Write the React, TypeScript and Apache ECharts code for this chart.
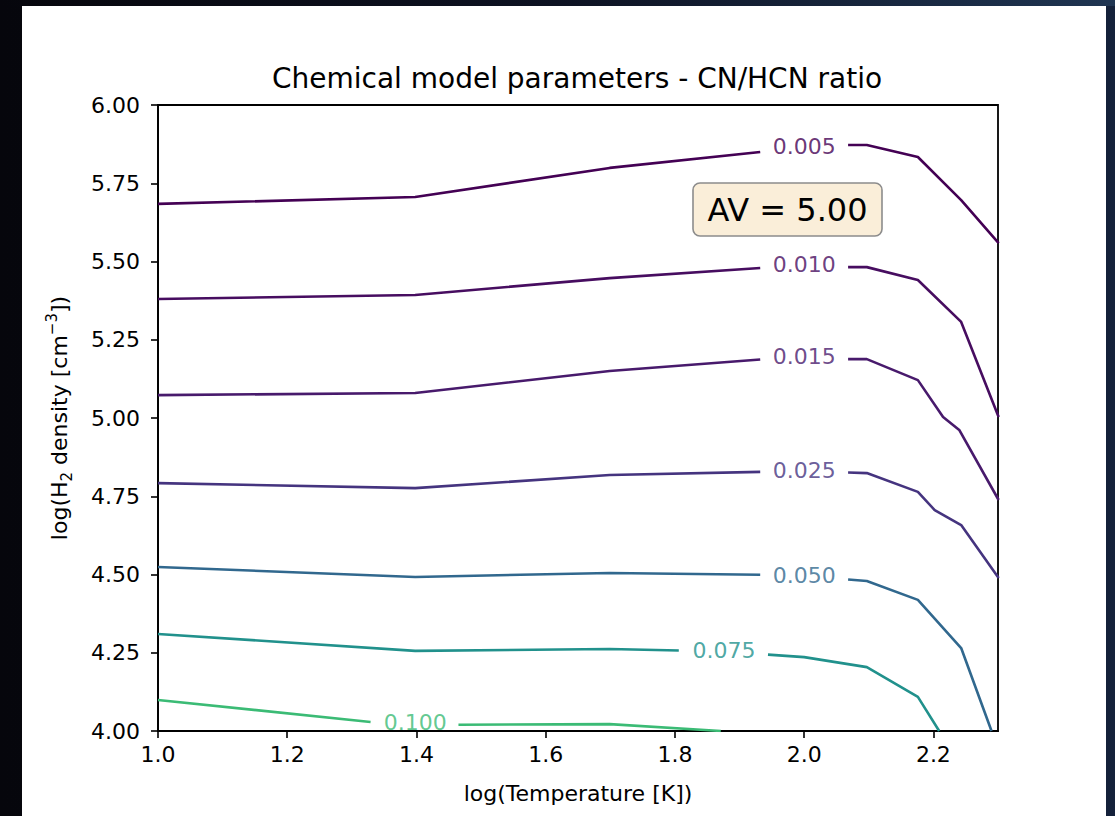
import React, { useEffect, useRef } from "react";
import * as echarts from "echarts";

// Contour levels of the CN/HCN ratio
const levelLabels = ["0.005", "0.010", "0.015", "0.025", "0.050", "0.075", "0.100"];

// Contour lines: [log(T), log(nH2)]; "-" marks the break left for the inline label
const line005: any[] = [[1.0, 5.684], [1.398, 5.706], [1.699, 5.799], [1.932, 5.85], "-", [2.068, 5.872], [2.097, 5.872], [2.176, 5.834], [2.243, 5.696], [2.301, 5.559]];
const line010: any[] = [[1.0, 5.38], [1.398, 5.393], [1.699, 5.447], [1.932, 5.479], "-", [2.068, 5.482], [2.097, 5.482], [2.176, 5.441], [2.243, 5.307], [2.301, 5.003]];
const line015: any[] = [[1.0, 5.073], [1.398, 5.08], [1.699, 5.15], [1.932, 5.187], "-", [2.068, 5.188], [2.097, 5.188], [2.176, 5.121], [2.215, 5.003], [2.24, 4.962], [2.301, 4.738]];
const line025: any[] = [[1.0, 4.792], [1.398, 4.776], [1.699, 4.818], [1.932, 4.828], "-", [2.068, 4.826], [2.097, 4.824], [2.176, 4.764], [2.202, 4.706], [2.243, 4.658], [2.301, 4.489]];
const line050: any[] = [[1.0, 4.524], [1.398, 4.492], [1.699, 4.505], [1.932, 4.499], "-", [2.068, 4.484], [2.097, 4.479], [2.176, 4.419], [2.243, 4.265], [2.29, 4.0]];
const line075: any[] = [[1.0, 4.31], [1.398, 4.256], [1.699, 4.262], [1.806, 4.257], "-", [1.944, 4.244], [2.0, 4.236], [2.097, 4.204], [2.176, 4.109], [2.209, 4.0]];
const line100: any[] = [[1.0, 4.099], [1.329, 4.029], "-", [1.465, 4.02], [1.699, 4.022], [1.871, 4.0]];

// Inline label anchors: [log(T), log(nH2)]
const labelAnchors = [[2.0, 5.866], [2.0, 5.489], [2.0, 5.196], [2.0, 4.832], [2.0, 4.497], [1.876, 4.256], [1.398, 4.026]];

// Axis ticks
const tempTicks = [1.0, 1.2, 1.4, 1.6, 1.8, 2.0, 2.2];

const lines = [line005, line010, line015, line025, line050, line075, line100];
const levelColors = ["#440154", "#470d60", "#481a6c", "#45347f", "#31688e", "#21918c", "#3bbb75"];

const FONT = "DejaVu Sans";

export default function App() {
  const ref = useRef<HTMLDivElement>(null);
  useEffect(() => {
    if (!ref.current) return;
    const chart = echarts.init(ref.current, undefined, { renderer: "svg" });
    const series: any[] = lines.map((pts, i) => ({
      type: "line",
      name: levelLabels[i],
      data: pts,
      symbol: "none",
      showSymbol: false,
      connectNulls: false,
      silent: true,
      z: 2,
      lineStyle: { color: levelColors[i], width: 2.6 },
      itemStyle: { color: levelColors[i] },
    }));
    series.push({
      type: "scatter",
      symbol: "circle",
      symbolSize: 1,
      silent: true,
      z: 5,
      itemStyle: { color: "rgba(0,0,0,0)" },
      data: labelAnchors.map((p, i) => ({
        value: p,
        label: {
          show: true,
          position: "inside",
          formatter: levelLabels[i],
          color: levelColors[i],
          fontSize: 22,
          fontFamily: FONT,
        },
      })),
    });
    chart.setOption({
      animation: false,
      grid: {
        left: 136,
        top: 99,
        right: 108,
        bottom: 85,
        show: true,
        borderColor: "#000",
        borderWidth: 1.8,
        backgroundColor: "transparent",
      },
      xAxis: {
        type: "value",
        min: 1.0,
        max: 2.3,
        name: "log(Temperature [K])",
        nameLocation: "middle",
        nameGap: 51,
        nameTextStyle: { fontFamily: FONT, fontSize: 22, color: "#000" },
        axisLine: { show: true, lineStyle: { color: "#000", width: 1.8 } },
        axisTick: { show: true, length: 7, customValues: tempTicks, lineStyle: { color: "#000", width: 1.6 } },
        axisLabel: {
          customValues: tempTicks,
          formatter: (v: number) => v.toFixed(1),
          fontFamily: FONT,
          fontSize: 22,
          color: "#000",
          margin: 12,
        },
        splitLine: { show: false },
      },
      yAxis: {
        type: "value",
        min: 4,
        max: 6,
        interval: 0.25,
        name: "{n|log(H}{sub|2}{n| density [cm}{sup|−3}{n|])}",
        nameLocation: "middle",
        nameGap: 84,
        nameTextStyle: {
          fontFamily: FONT,
          fontSize: 22,
          color: "#000",
          rich: {
            n: { fontFamily: FONT, fontSize: 22, color: "#000", lineHeight: 30, verticalAlign: "middle" },
            sub: { fontFamily: FONT, fontSize: 15, color: "#000", lineHeight: 30, verticalAlign: "bottom" },
            sup: { fontFamily: FONT, fontSize: 15, color: "#000", lineHeight: 30, verticalAlign: "top" },
          },
        },
        axisLine: { show: true, lineStyle: { color: "#000", width: 1.8 } },
        axisTick: { show: true, length: 7, lineStyle: { color: "#000", width: 1.6 } },
        axisLabel: {
          formatter: (v: number) => v.toFixed(2),
          fontFamily: FONT,
          fontSize: 22,
          color: "#000",
          margin: 18,
        },
        splitLine: { show: false },
      },
      graphic: [
        {
          type: "text",
          x: 555,
          y: 72,
          style: {
            text: "Chemical model parameters - CN/HCN ratio",
            fontFamily: FONT,
            fontSize: 28,
            fill: "#000",
            align: "center",
            verticalAlign: "middle",
          },
          z: 10,
        },
        {
          type: "rect",
          shape: { x: 671, y: 177, width: 189, height: 53, r: 7 },
          style: { fill: "#faeed9", stroke: "#8c8c8c", lineWidth: 1.6 },
          z: 10,
        },
        {
          type: "text",
          x: 765.5,
          y: 204,
          style: {
            text: "AV = 5.00",
            fontFamily: FONT,
            fontSize: 32,
            fill: "#000",
            align: "center",
            verticalAlign: "middle",
          },
          z: 11,
        },
      ],
      series,
    });
    return () => chart.dispose();
  }, []);

  return (
    <div
      style={{
        position: "fixed",
        left: 0,
        top: 0,
        width: 1115,
        height: 816,
        overflow: "hidden",
        background: "linear-gradient(90deg, #06060c 0%, #0a0b16 55%, #14213a 100%)",
      }}
    >
      <div
        style={{
          position: "absolute",
          left: 0,
          top: 0,
          width: 1115,
          height: 6,
          background: "linear-gradient(90deg, #06060c 0%, #0d1222 50%, #1f3552 100%)",
        }}
      />
      <div
        ref={ref}
        style={{ position: "absolute", left: 22, top: 6, width: 1084, height: 810, background: "#ffffff" }}
      />
    </div>
  );
}
